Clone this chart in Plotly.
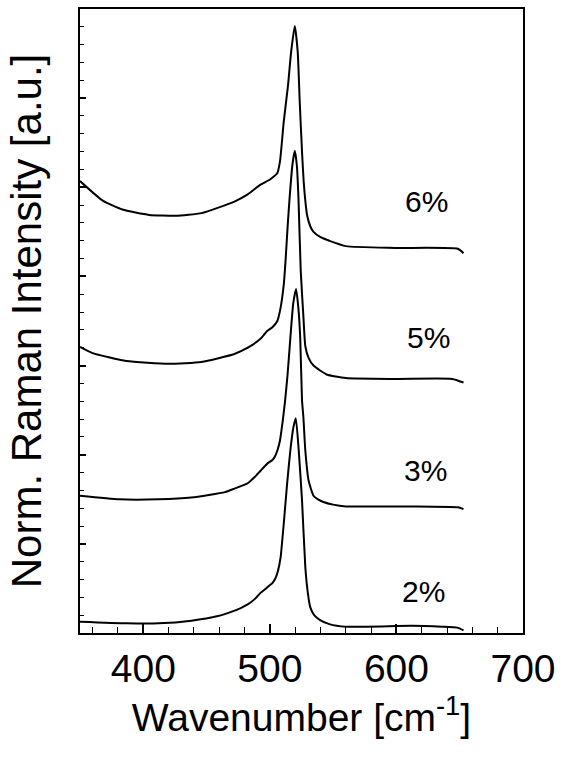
import plotly.graph_objects as go

# ---- data ----
labels = ["2%", "3%", "5%", "6%"]

x_2 = [350, 386.6, 412, 438, 459, 470, 477, 482.5, 488, 492.6, 497, 499.4, 502, 504.6, 506.5,
       508.5, 511, 513.6, 516.2, 518.5, 520.5, 522.8, 525.4, 528, 530, 531.9, 535, 539.7, 547,
       560, 612, 636, 648, 653]
y_2 = [0.126, 0.108, 0.108, 0.138, 0.19, 0.24, 0.28, 0.32, 0.38, 0.45, 0.50, 0.53, 0.56, 0.62,
       0.70, 0.85, 1.23, 1.67, 2.05, 2.30, 2.41, 2.05, 1.49, 0.74, 0.45, 0.29, 0.20, 0.145, 0.10,
       0.07, 0.08, 0.07, 0.06, 0.03]

x_3 = [350, 381, 412, 438, 464.6, 472, 482.5, 488, 492.6, 498, 502, 504, 506, 508, 510, 512,
       514, 516.2, 518.5, 520.7, 522.5, 524, 525.4, 526.5, 528, 530.6, 534.5, 538, 542.3, 550,
       560, 612, 648.5, 653]
y_3 = [1.54, 1.50, 1.50, 1.52, 1.58, 1.62, 1.68, 1.75, 1.82, 1.90, 1.94, 1.98, 2.05, 2.16, 2.36,
       2.60, 2.90, 3.31, 3.70, 3.86, 3.65, 3.31, 2.61, 2.42, 2.05, 1.71, 1.54, 1.50, 1.47, 1.44,
       1.42, 1.42, 1.41, 1.39]

x_5 = [350, 360, 386.6, 420, 446, 472, 482.5, 492.6, 498, 502, 505.9, 508.5, 511, 512.5, 514,
       515.6, 517.8, 519.7, 521.3, 522.6, 524.4, 526.5, 528, 530.5, 534.5, 544.9, 560, 599,
       644, 653]
y_5 = [3.21, 3.14, 3.05, 3.02, 3.04, 3.13, 3.20, 3.30, 3.39, 3.43, 3.50, 3.65, 3.91, 4.20, 4.55,
       4.88, 5.25, 5.41, 5.25, 4.88, 4.06, 3.55, 3.22, 3.09, 3.00, 2.90, 2.86, 2.85, 2.85, 2.81]

x_6 = [350, 368, 383.5, 404.6, 425.6, 446, 472, 482.5, 492.6, 500.4, 505.9, 508, 511, 514.4,
       516.8, 519.7, 522, 523.6, 525.4, 526.7, 528, 529.5, 532, 534.5, 540, 547, 560, 599,
       648.5, 653]
y_6 = [5.07, 4.85, 4.75, 4.69, 4.68, 4.71, 4.84, 4.92, 5.03, 5.09, 5.16, 5.29, 5.74, 6.15,
       6.52, 6.81, 6.52, 5.96, 5.40, 5.07, 4.85, 4.68, 4.56, 4.50, 4.44, 4.40, 4.34, 4.32,
       4.31, 4.26]

series_x = [x_2, x_3, x_5, x_6]
series_y = [y_2, y_3, y_5, y_6]
label_x = [621, 623, 625, 624]
label_y = [0.46, 1.82, 3.31, 4.84]

FONT = "Liberation Sans, Arial, sans-serif"

fig = go.Figure()
for xs, ys, name in zip(series_x, series_y, labels):
    fig.add_trace(go.Scatter(
        x=xs, y=ys, mode="lines", name=name,
        line=dict(color="black", width=2, shape="spline", smoothing=0.5),
        showlegend=False, hoverinfo="skip"))

for lx, ly, t in zip(label_x, label_y, labels):
    fig.add_annotation(x=lx, y=ly, text=t, showarrow=False,
                       xanchor="center", yanchor="middle",
                       font=dict(family=FONT, size=30, color="black"))

fig.update_layout(
    width=563, height=759,
    margin=dict(l=80, r=34, t=7, b=126),
    paper_bgcolor="white", plot_bgcolor="white",
    font=dict(family=FONT, color="black"),
)

fig.update_xaxes(
    range=[350, 700], tickmode="linear", tick0=400, dtick=100,
    ticks="inside", ticklen=9, tickwidth=1.5, tickcolor="black",
    minor=dict(dtick=20, tick0=400, ticks="inside", ticklen=6, tickwidth=1, tickcolor="black"),
    showline=True, linecolor="black", linewidth=1.5, mirror=True,
    showgrid=False, zeroline=False,
    tickfont=dict(family=FONT, size=39, color="black"),
    title=dict(text="Wavenumber [cm<sup>-1</sup>]", font=dict(family=FONT, size=39, color="black"),
               standoff=10),
)

fig.update_yaxes(
    range=[0, 7], tickmode="linear", tick0=0, dtick=1,
    ticks="inside", ticklen=6, tickwidth=1.5, tickcolor="black",
    minor=dict(dtick=0.2, tick0=0, ticks="inside", ticklen=4, tickwidth=1, tickcolor="black"),
    showticklabels=False,
    showline=True, linecolor="black", linewidth=1.5, mirror=True,
    showgrid=False, zeroline=False,
    title=dict(text="Norm. Raman Intensity [a.u.]", font=dict(family=FONT, size=42, color="black"),
               standoff=24),
)

fig.write_html("out.html")
